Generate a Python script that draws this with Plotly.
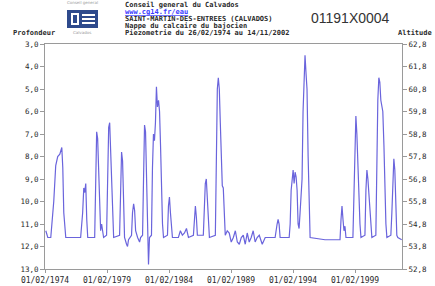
import plotly.graph_objects as go
import pandas as pd

# ---- data ----
years = [1974.15, 1974.31, 1974.55, 1974.79, 1974.95, 1975.11, 1975.28, 1975.44, 1975.52, 1975.60,
         1975.76, 1976.96, 1977.12, 1977.21, 1977.29, 1977.37, 1977.45, 1977.53, 1978.09, 1978.17,
         1978.25, 1978.33, 1978.41, 1978.49, 1978.57, 1978.65, 1978.81, 1979.05, 1979.13, 1979.22,
         1979.30, 1979.38, 1979.54, 1979.62, 1980.10, 1980.18, 1980.26, 1980.34, 1980.42, 1980.50,
         1980.66, 1980.74, 1980.82, 1981.06, 1981.14, 1981.23, 1981.31, 1981.39, 1981.55, 1981.71,
         1981.79, 1981.95, 1982.03, 1982.11, 1982.19, 1982.27, 1982.35, 1982.43, 1982.51, 1982.67,
         1982.75, 1982.83, 1982.91, 1982.99, 1983.07, 1983.15, 1983.24, 1983.32, 1983.40, 1983.48,
         1983.56, 1983.64, 1983.96, 1984.04, 1984.12, 1984.20, 1984.28, 1984.36, 1984.84, 1985.00,
         1985.16, 1985.33, 1985.49, 1985.65, 1986.05, 1986.13, 1986.21, 1986.29, 1986.37, 1986.85,
         1986.93, 1987.01, 1987.09, 1987.17, 1987.26, 1987.34, 1987.82, 1987.90, 1987.98, 1988.06,
         1988.14, 1988.22, 1988.30, 1988.38, 1988.46, 1988.54, 1988.62, 1988.78, 1988.94, 1989.10,
         1989.27, 1989.43, 1989.59, 1989.75, 1989.91, 1990.07, 1990.23, 1990.39, 1990.55, 1990.71,
         1990.87, 1991.03, 1991.19, 1991.36, 1991.60, 1991.84, 1992.64, 1992.80, 1992.88, 1992.96,
         1993.04, 1993.77, 1993.85, 1993.93, 1994.01, 1994.09, 1994.17, 1994.25, 1994.33, 1994.41,
         1994.49, 1994.57, 1994.65, 1994.81, 1994.89, 1994.97, 1995.05, 1995.13, 1995.21, 1995.30,
         1995.38, 1995.46, 1996.66, 1997.87, 1997.95, 1998.03, 1998.11, 1998.19, 1998.27, 1998.35,
         1998.91, 1998.99, 1999.07, 1999.15, 1999.23, 1999.31, 1999.39, 1999.48, 1999.56, 1999.88,
         1999.96, 2000.04, 2000.12, 2000.20, 2000.28, 2000.36, 2000.44, 2000.76, 2000.84, 2000.92,
         2001.00, 2001.08, 2001.16, 2001.24, 2001.32, 2001.41, 2001.49, 2001.57, 2001.65, 2001.97,
         2002.05, 2002.13, 2002.21, 2002.29, 2002.37, 2002.45, 2002.53, 2002.85]

depth = [11.3, 11.6, 11.6, 10.0, 8.4, 8.0, 7.9, 7.6, 8.5, 10.5,
         11.6, 11.6, 10.5, 9.4, 9.6, 9.2, 10.8, 11.6, 11.6, 9.0,
         6.9, 7.2, 8.6, 9.3, 11.3, 11.0, 11.6, 11.5, 8.5, 6.7,
         6.5, 8.0, 11.0, 11.6, 11.5, 9.0, 7.8, 8.2, 10.5, 11.6,
         11.9, 12.0, 11.7, 11.5, 10.5, 10.1, 10.4, 11.3, 11.6, 11.8,
         11.6, 11.5, 9.0, 6.6, 6.9, 9.5, 11.6, 12.8, 11.6, 11.5,
         8.5, 7.0, 7.3, 6.5, 4.9, 5.8, 5.5, 6.0, 7.5, 9.5,
         11.0, 11.6, 11.5, 10.2, 9.8, 10.5, 11.2, 11.6, 11.6, 11.3,
         11.5, 11.4, 11.2, 11.6, 11.5, 10.8, 10.2, 10.7, 11.5, 11.5,
         10.0, 9.2, 9.0, 9.8, 11.3, 11.6, 11.5, 8.0, 5.0, 4.5,
         5.0, 6.5, 8.5, 9.3, 9.4, 10.5, 11.5, 11.3, 11.4, 11.8,
         11.6, 11.3, 11.8, 11.9, 11.6, 11.5, 11.9, 11.4, 11.8, 11.6,
         11.3, 11.8, 11.6, 11.5, 11.9, 11.6, 11.6, 11.0, 10.8, 11.0,
         11.6, 11.6, 11.0, 9.5, 8.8, 8.6, 9.2, 8.7, 8.9, 9.5,
         11.0, 11.2, 10.5, 9.0, 6.0, 4.0, 3.5, 4.3, 5.0, 8.0,
         10.5, 11.6, 11.7, 11.7, 10.8, 10.2, 10.8, 11.3, 11.1, 11.6,
         11.6, 10.0, 7.5, 6.2, 7.0, 8.5, 9.5, 11.0, 11.6, 11.5,
         9.5, 8.6, 9.0, 9.6, 10.0, 10.8, 11.6, 11.5, 8.0, 5.5,
         4.5, 4.7, 5.5, 5.9, 6.0, 7.5, 9.5, 11.0, 11.6, 11.5,
         10.5, 9.0, 8.1, 8.6, 10.0, 11.5, 11.6, 11.7]

ground_altitude = 65.8  # altitude = 65.8 - profondeur

depth_ticks = [3, 4, 5, 6, 7, 8, 9, 10, 11, 12, 13]
depth_labels = ["3,0", "4,0", "5,0", "6,0", "7,0", "8,0", "9,0", "10,0", "11,0", "12,0", "13,0"]
alt_ticks = [52.8, 53.8, 54.8, 55.8, 56.8, 57.8, 58.8, 59.8, 60.8, 61.8, 62.8]
alt_labels = ["52,8", "53,8", "54,8", "55,8", "56,8", "57,8", "58,8", "59,8", "60,8", "61,8", "62,8"]
date_ticks = ["1974-02-01", "1979-02-01", "1984-02-01", "1989-02-01", "1994-02-01", "1999-02-01"]
date_labels = ["01/02/1974", "01/02/1979", "01/02/1984", "01/02/1989", "01/02/1994", "01/02/1999"]

# ---- build ----
def year_to_date(y):
    yi = int(y)
    return pd.Timestamp(yi, 1, 1) + pd.Timedelta(days=(y - yi) * 365.25)

dates = [year_to_date(y) for y in years]
altitude = [round(ground_altitude - d, 2) for d in depth]

W, H = 435, 286
L, R, T, B = 45, 33, 44, 17
PW, PH = W - L - R, H - T - B

def px(x):
    return (x - L) / PW

def py(y):
    return (H - B - y) / PH

MONO = "DejaVu Sans Mono"
TXT = "#2a2a2a"
AXC = "#9a9a9a"

fig = go.Figure()
fig.add_trace(go.Scatter(x=dates, y=depth, mode="lines",
                         line=dict(color="#6a64dc", width=1.2),
                         hoverinfo="skip", showlegend=False))
fig.add_trace(go.Scatter(x=dates, y=altitude, mode="lines", yaxis="y2",
                         line=dict(color="rgba(0,0,0,0)", width=0.5),
                         hoverinfo="skip", showlegend=False))

tickfont = dict(family=MONO, size=7.5, color=TXT)

fig.update_layout(
    width=W, height=H,
    margin=dict(l=L, r=R, t=T, b=B, pad=0, autoexpand=False),
    paper_bgcolor="white", plot_bgcolor="white",
    xaxis=dict(type="date", range=["1974-02-01", "2002-11-14"],
               tickvals=date_ticks, ticktext=date_labels, automargin=False,
               showgrid=False, zeroline=False,
               showline=True, linecolor=AXC, linewidth=1, mirror=True,
               ticks="outside", ticklen=3, tickcolor=AXC,
               tickfont=dict(family=MONO, size=8, color=TXT)),
    yaxis=dict(range=[13, 3], tickvals=depth_ticks, ticktext=depth_labels, automargin=False,
               showgrid=False, zeroline=False,
               showline=True, linecolor=AXC, linewidth=1,
               ticks="outside", ticklen=4, tickcolor=AXC,
               tickfont=tickfont),
    yaxis2=dict(range=[52.8, 62.8], tickvals=alt_ticks, ticktext=alt_labels, automargin=False,
                overlaying="y", side="right",
                showgrid=False, zeroline=False,
                showline=True, linecolor=AXC, linewidth=1,
                ticks="outside", ticklen=4, tickcolor=AXC,
                tickfont=tickfont),
)

ann = []
def add_text(x, y, text, size=7, color=TXT, family=MONO, xanchor="left"):
    ann.append(dict(x=px(x), y=py(y), xref="paper", yref="paper", text=text,
                    showarrow=False, xanchor=xanchor, yanchor="middle",
                    font=dict(family=family, size=size, color=color)))

add_text(123, 5, "<b>Conseil general du Calvados</b>")
add_text(123, 12, "<b><u>www.cg14.fr/eau</u></b>", color="#3a3aff")
add_text(123, 19, "<b>SAINT-MARTIN-DES-ENTREES (CALVADOS)</b>")
add_text(123, 26, "<b>Nappe du calcaire du bajocien</b>")
add_text(123, 33, "<b>Piezometrie du 26/02/1974 au 14/11/2002</b>")
add_text(309, 18, "01191X0004", size=14, color="#333333", family="Liberation Sans")
add_text(34, 33, "<b>Profondeur</b>", xanchor="center")
add_text(434, 33, "<b>Altitude</b>", xanchor="right")
add_text(82, 3, "Conseil general", size=4, color="#999999", family="DejaVu Sans", xanchor="center")
add_text(82, 32, "Calvados", size=4, color="#999999", family="DejaVu Sans", xanchor="center")
fig.update_layout(annotations=ann)

shapes = [
    dict(type="rect", xref="paper", yref="paper", x0=px(67), x1=px(98), y0=py(28), y1=py(10),
         fillcolor="#2e4a8c", line=dict(width=0), layer="above"),
    dict(type="rect", xref="paper", yref="paper", x0=px(71), x1=px(79), y0=py(25), y1=py(13),
         fillcolor="white", line=dict(width=0), layer="above"),
    dict(type="rect", xref="paper", yref="paper", x0=px(73), x1=px(77), y0=py(23), y1=py(15),
         fillcolor="#2e4a8c", line=dict(width=0), layer="above"),
    dict(type="rect", xref="paper", yref="paper", x0=px(82), x1=px(95), y0=py(16), y1=py(14),
         fillcolor="white", line=dict(width=0), layer="above"),
    dict(type="rect", xref="paper", yref="paper", x0=px(82), x1=px(95), y0=py(20), y1=py(18),
         fillcolor="white", line=dict(width=0), layer="above"),
    dict(type="rect", xref="paper", yref="paper", x0=px(82), x1=px(95), y0=py(24), y1=py(22),
         fillcolor="white", line=dict(width=0), layer="above"),
]
fig.update_layout(shapes=shapes)

fig.write_html("out.html", config={"displayModeBar": False, "staticPlot": True},
               post_script="document.body.style.margin='0';document.body.style.overflow='hidden';")
